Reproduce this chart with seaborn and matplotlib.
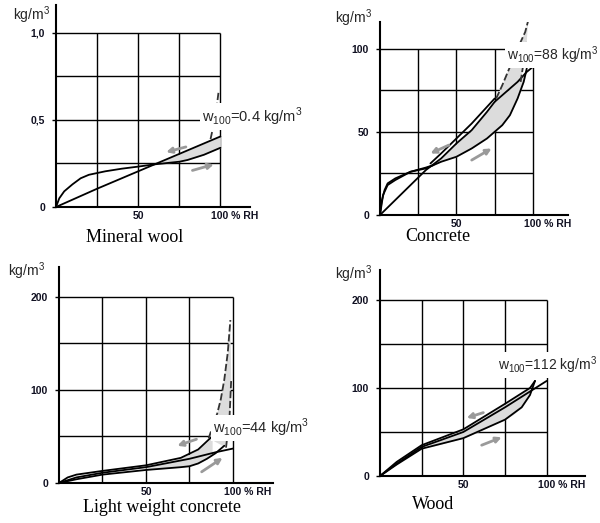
## IMPORTING
import numpy as np
import seaborn as sns
import matplotlib.pyplot as plt
from matplotlib.transforms import ScaledTranslation


## DATA  (relative humidity in %, moisture content in kg/m3)
# Mineral wool
mw_ads_rh = [0, 2, 5, 10, 15, 20, 30, 40, 50, 60, 70, 75, 80, 90, 100]
mw_ads = [0, 0.05, 0.09, 0.13, 0.165, 0.185, 0.205, 0.22, 0.232, 0.245, 0.255, 0.26, 0.27, 0.30, 0.34]
mw_des_rh = [0, 25, 50, 60, 75, 90, 100]
mw_des = [0, 0.105, 0.205, 0.245, 0.305, 0.365, 0.405]
mw_dash_rh = [94, 97, 99]
mw_dash = [0.39, 0.52, 0.67]
mw_band_rh = [60, 65, 70, 75, 80, 85, 90, 95, 100]
mw_band_lo = [0.245, 0.25, 0.255, 0.26, 0.27, 0.285, 0.30, 0.32, 0.34]
mw_band_hi = [0.245, 0.265, 0.285, 0.305, 0.325, 0.345, 0.365, 0.385, 0.405]
mw_arrows = [((79, 0.345), (67, 0.315)), ((83, 0.21), (96, 0.245))]

# Concrete
cc_ads_rh = [0, 1, 3, 5, 10, 15, 20, 25, 30, 35, 40, 50, 60, 70, 75, 80, 85, 90, 94, 96]
cc_ads = [0, 8, 15, 19, 22, 24, 26, 27, 28, 30, 32, 35, 40, 46, 50, 54, 60, 70, 80, 88]
cc_ads2_rh = [0, 2, 5, 10, 20, 30, 35]
cc_ads2 = [0, 12, 18, 21, 26, 28.5, 30]
cc_des_rh = [0, 10, 20, 30, 40, 50, 60, 70, 75, 80, 90, 96, 100]
cc_des = [0, 9, 18, 27, 34, 43, 51, 62, 68, 72, 80, 86, 89]
cc_des2_rh = [33, 40, 50, 60, 70, 75]
cc_des2 = [31, 37, 46, 55, 65, 70]
cc_dash_rh = [76, 80, 85, 90, 95, 97]
cc_dash = [70, 78, 89, 100, 110, 117]
cc_dash2_rh = [92, 94, 96]
cc_dash2 = [80, 92, 104]
cc_band_rh = [35, 40, 50, 60, 70, 75, 80, 85, 90, 94, 96]
cc_band_lo = [30, 32, 35, 40, 46, 50, 54, 60, 70, 80, 86]
cc_band_hi = [31, 34, 43, 51, 62, 68, 72, 76, 80, 84, 86]
cc_arrows = [((45, 42), (33, 37)), ((60, 33), (73, 40))]

# Light weight concrete
lw_lin_rh = [0, 10, 25, 50, 75, 90, 100]
lw_lin = [0, 6, 11, 17, 26, 33, 37]
lw_des_rh = [0, 5, 10, 25, 50, 70, 80, 88]
lw_des = [0, 6, 9, 13, 19, 27, 36, 50]
lw_ads_rh = [0, 10, 25, 50, 70, 75, 80, 85, 90, 95]
lw_ads = [0, 4, 9, 14, 17, 18, 21, 26, 32, 40]
lw_dash_rh = [86, 91, 93, 95, 97, 98.5]
lw_dash = [48, 75, 90, 111, 140, 175]
lw_dash2_rh = [96, 98, 99]
lw_dash2 = [38, 70, 112]
lw_band_rh = [50, 60, 70, 75, 80, 85, 88]
lw_band_lo = [14, 15.5, 17, 18, 21, 26, 30]
lw_band_hi = [19, 22, 27, 31, 36, 44, 50]
lw_arrows = [((79, 47), (68, 40)), ((82, 12), (94, 27))]

# Wood
wd_des_rh = [0, 10, 25, 50, 75, 90, 93]
wd_des = [0, 16, 35, 53, 82, 100, 108]
wd_mid_rh = [0, 10, 25, 50, 75, 90, 100]
wd_mid = [0, 14, 33, 50, 78, 96, 108]
wd_ads_rh = [0, 10, 25, 50, 75, 85, 90, 93]
wd_ads = [0, 13, 31, 43, 64, 78, 92, 108]
wd_band_rh = [30, 40, 50, 60, 70, 75, 80, 85, 90]
wd_band_lo = [33, 38, 43, 51, 60, 64, 70, 78, 92]
wd_band_hi = [38, 45, 53, 64, 76, 82, 88, 94, 100]
wd_arrows = [((62, 72), (52, 66)), ((61, 35), (73, 44))]


## SET STYLE
sns.set_theme(style='white')
plt.rcParams['font.family'] = ['Liberation Sans', 'DejaVu Sans']
plt.rcParams['mathtext.fontset'] = 'custom'
plt.rcParams['mathtext.rm'] = 'Liberation Sans'

fig = plt.figure(figsize=(6, 5.23), dpi=100)


def draw_panel(rect, curves, dashes, band, arrows, grid_y, yticks, ylabels,
               xmax, ymax, label, label_xy, label_fs, title, title_xy, unit_xy):
    ax = fig.add_axes(rect)
    ax.set_facecolor('white')

    # hysteresis band
    ax.fill_between(band[0], band[1], band[2], color='#dcdcdc', lw=0, zorder=1)
    if len(dashes) == 2:
        px = list(dashes[0][0]) + list(dashes[1][0])[::-1]
        py = list(dashes[0][1]) + list(dashes[1][1])[::-1]
        ax.fill(px, py, color='#dcdcdc', lw=0, zorder=1)

    # grid box
    for y in grid_y:
        ax.hlines(y, 0, 100, color='black', lw=1.0, zorder=0.5)
    for x in [25, 50, 75, 100]:
        ax.vlines(x, 0, grid_y[-1], color='black', lw=1.0, zorder=0.5)

    for rh, w in curves:
        sns.lineplot(x=rh, y=w, ax=ax, color='black', lw=1.3,
                     estimator=None, zorder=3)
    for rh, w in dashes:
        sns.lineplot(x=rh, y=w, ax=ax, color='#333333', lw=1.3,
                     linestyle=(0, (4, 1.5)), estimator=None, zorder=3)

    for tail, head in arrows:
        ax.annotate('', xy=head, xytext=tail, zorder=4,
                    arrowprops=dict(arrowstyle='-|>', color='#9a9a9a',
                                    lw=2.0, mutation_scale=8,
                                    shrinkA=0, shrinkB=0))

    ax.set_xlim(0, xmax)
    ax.set_ylim(0, ymax)
    for s in ['top', 'right']:
        ax.spines[s].set_visible(False)
    for s in ['left', 'bottom']:
        ax.spines[s].set_color('black')
        ax.spines[s].set_linewidth(1.5)

    ax.set_yticks(yticks)
    ax.set_yticklabels(ylabels, fontsize=7.5, fontweight='bold', color='#111122')
    ax.set_xticks([50, 100])
    ax.set_xticklabels(['50', '100 % RH'], fontsize=7.5, fontweight='bold',
                       color='#111122')
    ax.tick_params(axis='y', direction='out', length=3, width=1, pad=5,
                   left=True, colors='black', labelcolor='#111122')
    ax.tick_params(axis='x', length=0, pad=3, labelcolor='#111122')
    lbl = ax.get_xticklabels()[1]
    lbl.set_ha('left')
    lbl.set_transform(lbl.get_transform() +
                      ScaledTranslation(-0.09, 0, fig.dpi_scale_trans))
    ax.set_xlabel('')
    ax.set_ylabel('')

    ax.text(label_xy[0], label_xy[1], label, fontsize=label_fs, ha='left',
            va='center', zorder=6, clip_on=False,
            bbox=dict(facecolor='white', edgecolor='none', pad=1.5))
    ax.text(title_xy[0], title_xy[1], title, fontsize=13, ha='center',
            va='center', family=['Liberation Serif', 'DejaVu Serif'],
            color='black', transform=ax.get_xaxis_transform())
    ax.text(unit_xy[0], unit_xy[1], 'kg/m$^\\mathregular{3}$', fontsize=10,
            ha='right', va='center', transform=ax.transAxes)
    return ax


## MINERAL WOOL
draw_panel([56/600, 1-207/523, 194/600, 202/523],
           [(mw_ads_rh, mw_ads), (mw_des_rh, mw_des)],
           [(mw_dash_rh, mw_dash)],
           (mw_band_rh, mw_band_lo, mw_band_hi), mw_arrows,
           [0.25, 0.5, 0.75, 1.0], [0, 0.5, 1.0], ['0', '0,5', '1,0'],
           118, 1.16, 'w$_\\mathregular{100}$=0.4 kg/m$^\\mathregular{3}$',
           (89, 0.52), 10.5, 'Mineral wool', (48, -0.15), (-0.03, 0.95))

## CONCRETE
draw_panel([380/600, 1-215/523, 188/600, 193/523],
           [(cc_ads_rh, cc_ads), (cc_ads2_rh, cc_ads2),
            (cc_des_rh, cc_des), (cc_des2_rh, cc_des2)],
           [(cc_dash_rh, cc_dash), (cc_dash2_rh, cc_dash2)],
           (cc_band_rh, cc_band_lo, cc_band_hi), cc_arrows,
           [25, 50, 75, 100], [0, 50, 100], ['0', '50', '100'],
           123, 116, 'w$_\\mathregular{100}$=88 kg/m$^\\mathregular{3}$',
           (83, 96), 10, 'Concrete', (38, -0.11), (-0.04, 1.02))

## LIGHT WEIGHT CONCRETE
draw_panel([59/600, 1-483/523, 214/600, 216/523],
           [(lw_lin_rh, lw_lin), (lw_des_rh, lw_des), (lw_ads_rh, lw_ads)],
           [(lw_dash_rh, lw_dash), (lw_dash2_rh, lw_dash2)],
           (lw_band_rh, lw_band_lo, lw_band_hi), lw_arrows,
           [50, 100, 150, 200], [0, 100, 200], ['0', '100', '200'],
           123, 232, 'w$_\\mathregular{100}$=44 kg/m$^\\mathregular{3}$',
           (88.5, 59), 10.5, 'Light weight concrete', (59, -0.115), (-0.065, 0.98))

## WOOD
draw_panel([380/600, 1-476/523, 205/600, 206/523],
           [(wd_des_rh, wd_des), (wd_mid_rh, wd_mid), (wd_ads_rh, wd_ads)],
           [],
           (wd_band_rh, wd_band_lo, wd_band_hi), wd_arrows,
           [50, 100, 150, 200], [0, 100, 200], ['0', '100', '200'],
           123, 234, 'w$_\\mathregular{100}$=112 kg/m$^\\mathregular{3}$',
           (71, 126), 10, 'Wood', (32, -0.14), (-0.04, 0.98))

fig.savefig('out.png', dpi=100)
